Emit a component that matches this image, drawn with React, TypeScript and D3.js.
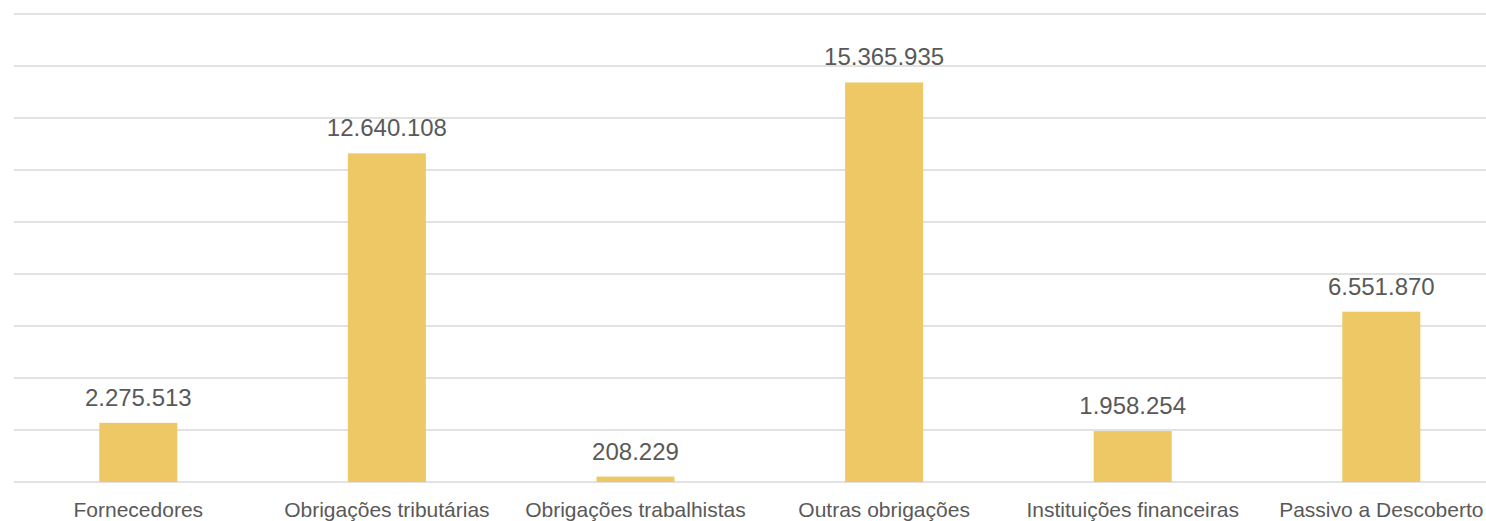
import React from "react";
import * as d3 from "d3";

const categories = [
  "Fornecedores",
  "Obrigações tributárias",
  "Obrigações trabalhistas",
  "Outras obrigações",
  "Instituições financeiras",
  "Passivo a Descoberto",
];
const values = [2275513, 12640108, 208229, 15365935, 1958254, 6551870];
const yTicks = [0, 2000000, 4000000, 6000000, 8000000, 10000000, 12000000, 14000000, 16000000, 18000000];

const W = 1486;
const H = 521;
const x0 = 14;
const band = 248.6;
const top = 14;
const base = 482;

const fmt = (v: number) => d3.format(",")(v).replace(/,/g, ".");

export default function App() {
  const y = d3.scaleLinear().domain([0, 18000000]).range([base, top]);
  const font = "'Liberation Sans', Arial, sans-serif";
  return (
    <svg
      width={W}
      height={H}
      style={{ position: "absolute", left: 0, top: 0, background: "#fff" }}
    >
      {yTicks.map((t) => (
        <line
          key={t}
          x1={x0}
          x2={W}
          y1={y(t)}
          y2={y(t)}
          stroke="#D9D9D9"
          strokeWidth={1.5}
        />
      ))}
      {categories.map((c, i) => {
        const cx = x0 + band * (i + 0.5);
        const bw = 78;
        return (
          <g key={c}>
            <rect
              x={cx - bw / 2}
              y={y(values[i])}
              width={bw}
              height={base - y(values[i])}
              fill="#EEC864"
            />
            <text
              x={cx}
              y={y(values[i]) - 17}
              textAnchor="middle"
              fontFamily={font}
              fontSize={24}
              fill="#595959"
            >
              {fmt(values[i])}
            </text>
            <text
              x={cx}
              y={517}
              textAnchor="middle"
              fontFamily={font}
              fontSize={21}
              fill="#595959"
            >
              {c}
            </text>
          </g>
        );
      })}
    </svg>
  );
}
